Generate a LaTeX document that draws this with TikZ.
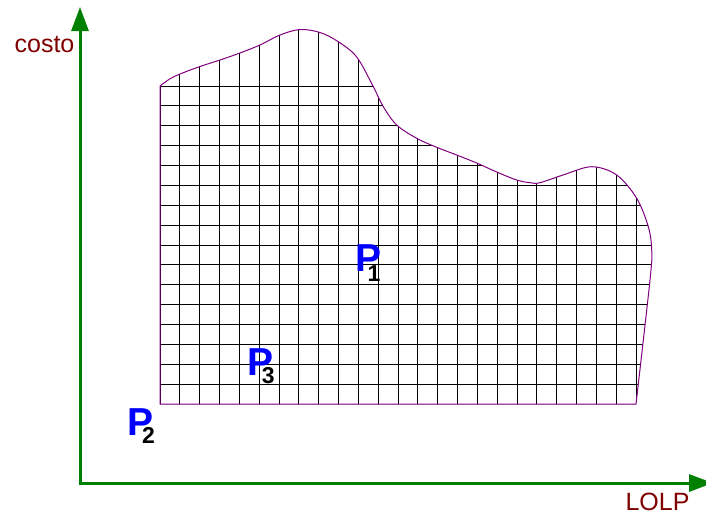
\documentclass[tikz,border=0pt]{standalone}
\usepackage{fontspec}
\setmainfont{Liberation Sans}
\usetikzlibrary{arrows.meta}
\definecolor{axisgreen}{RGB}{0,128,0}
\definecolor{labelred}{RGB}{128,0,0}
\definecolor{edgepurple}{RGB}{128,0,128}
\definecolor{pblue}{RGB}{0,0,255}
\tikzset{
  axis/.style={draw=axisgreen, line width=3pt, line join=miter,
    {Triangle[length=24pt,width=17pt]}-{Triangle[length=24pt,width=17pt]}},
  axislabel/.style={text=labelred, inner sep=0pt, anchor=base, font=\fontsize{25}{30}\selectfont},
  gridline/.style={draw=black, line width=0.9pt},
  edge/.style={draw=edgepurple, line width=1pt},
  pmain/.style={text=pblue, inner sep=0pt, anchor=base west, font=\bfseries\fontsize{39}{44}\selectfont},
  psub/.style={text=black, inner sep=0pt, anchor=base west, font=\bfseries\fontsize{23}{26}\selectfont}
}
\begin{document}
\begin{tikzpicture}[x=1pt,y=-1pt]
\useasboundingbox (0,0) rectangle (706,515);
% axes
\coordinate (ytop) at (80,7);
\coordinate (origin) at (80,483);
\coordinate (xend) at (713,483);
\draw[axis] (ytop) -- (origin) -- (xend);
\node[axislabel] (costo) at (44.5,52.7) {costo};
\node[axislabel] (lolp) at (657.5,510.7) {LOLP};
% region
\path[save path=\regionp] plot[smooth, tension=0.55] coordinates {
 (160,86) (170,78.8) (180,74) (200,66.5) (220,60) (240,53) (260,45) (280,35)
 (300,29.5) (320,32.5) (338,41.5) (356.7,57) (373.3,86.7) (383.3,106.7)
 (396.7,125) (416.7,138.3) (436.7,147.3) (456.7,155) (476.7,163)
 (496.7,172) (516.7,180) (530,182.7) (540,182.7) (563,175) (591.7,166.7)
 (616.7,175) (636.7,198.3) (648.3,226.7) (651.7,250) (650,280) (636,404)}
 -- (160,404) -- cycle;
\begin{scope}
  \clip[use path=\regionp];
  \foreach \k in {0,...,24} \draw[gridline] (160+19.833*\k,0) -- (160+19.833*\k,410);
  \foreach \k in {0,...,16} \draw[gridline] (150,404-19.875*\k) -- (670,404-19.875*\k);
\end{scope}
\draw[edge, use path=\regionp];
% points
\node[pmain] (p1) at (355.3,271.7) {P};
\node[psub] (p1s) at (367.5,281.7) {1};
\node[pmain] (p2) at (127.7,435) {P};
\node[psub] (p2s) at (142,443.3) {2};
\node[pmain] (p3) at (247,375.7) {P};
\node[psub] (p3s) at (261.7,383.3) {3};
\end{tikzpicture}
\end{document}
